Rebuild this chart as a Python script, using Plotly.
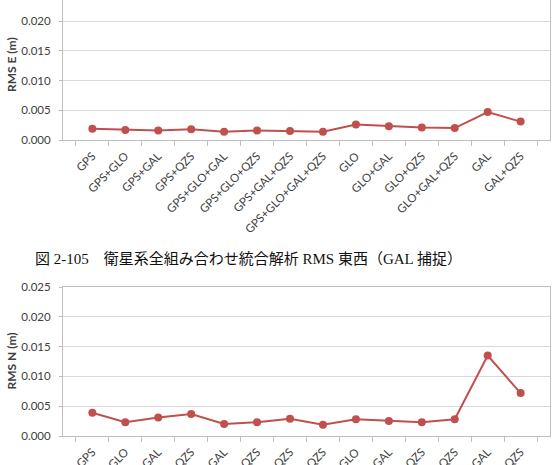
import plotly.graph_objects as go

categories = ["GPS", "GPS+GLO", "GPS+GAL", "GPS+QZS", "GPS+GLO+GAL", "GPS+GLO+QZS",
              "GPS+GAL+QZS", "GPS+GLO+GAL+QZS", "GLO", "GLO+GAL", "GLO+QZS",
              "GLO+GAL+QZS", "GAL", "GAL+QZS"]
rms_e = [0.0019, 0.0017, 0.0016, 0.0018, 0.0014, 0.0016, 0.0015, 0.0014,
         0.0026, 0.0023, 0.0021, 0.0020, 0.0047, 0.0031]
rms_n = [0.0039, 0.0023, 0.0031, 0.0037, 0.0020, 0.0023, 0.0029, 0.0019,
         0.0028, 0.0025, 0.0023, 0.0028, 0.0135, 0.0072]
y_ticks = [0.000, 0.005, 0.010, 0.015, 0.020, 0.025]
caption = "図 2-105　衛星系全組み合わせ統合解析 RMS 東西（GAL 捕捉）"

W, H = 554, 465
RED = "#C0504D"
GRID = "#D9D9D9"
AXIS = "#BFBFBF"
TXT = "#404040"
FONT = "Lato, Open Sans, sans-serif"

fig = go.Figure()
fig.add_trace(go.Scatter(x=categories, y=rms_e, mode="lines+markers", xaxis="x", yaxis="y",
                         line=dict(color=RED, width=2), marker=dict(color=RED, size=8),
                         showlegend=False, cliponaxis=False))
fig.add_trace(go.Scatter(x=categories, y=rms_n, mode="lines+markers", xaxis="x2", yaxis="y2",
                         line=dict(color=RED, width=2), marker=dict(color=RED, size=8),
                         showlegend=False, cliponaxis=False))

x_dom = [63 / W, 550 / W]
top_dom = [(H - 140) / H, 1.0]
bot_dom = [(H - 436) / H, (H - 287) / H]

xcommon = dict(type="category", tickangle=-45, tickson="boundaries", ticks="outside",
               ticklen=5, tickcolor=AXIS, showline=True, linecolor=AXIS, linewidth=1,
               showgrid=False, tickfont=dict(family=FONT, size=11.5, color=TXT),
               categoryorder="array", categoryarray=categories, fixedrange=True,
               automargin=False, ticklabelstandoff=4)
ycommon = dict(tickvals=y_ticks, tickformat=".3f", ticks="outside", ticklen=3,
               tickcolor=AXIS, showline=True, linecolor=AXIS, linewidth=1, mirror=True,
               showgrid=True, gridcolor=GRID, gridwidth=1, zeroline=False,
               tickfont=dict(family=FONT, size=11.5, color=TXT), ticklabelstandoff=6,
               automargin=False, fixedrange=True)

fig.update_layout(
    width=W, height=H, margin=dict(l=0, r=0, t=0, b=0, autoexpand=False),
    paper_bgcolor="white", plot_bgcolor="white",
    xaxis=dict(domain=x_dom, anchor="y", **xcommon),
    yaxis=dict(domain=top_dom, anchor="x", range=[0, 0.02357], **ycommon),
    xaxis2=dict(domain=x_dom, anchor="y2", mirror=True, **xcommon),
    yaxis2=dict(domain=bot_dom, anchor="x2", range=[0, 0.025], **ycommon),
)

fig.add_annotation(text="<b>RMS E (m)</b>", xref="paper", yref="paper",
                   x=11 / W, y=(H - 65) / H, xanchor="center", yanchor="middle",
                   textangle=-90, showarrow=False,
                   font=dict(family=FONT, size=12, color=TXT))
fig.add_annotation(text="<b>RMS N (m)</b>", xref="paper", yref="paper",
                   x=11 / W, y=(H - 361.5) / H, xanchor="center", yanchor="middle",
                   textangle=-90, showarrow=False,
                   font=dict(family=FONT, size=12, color=TXT))
fig.add_annotation(text=caption, xref="paper", yref="paper",
                   x=33 / W, y=(H - 259) / H, xanchor="left", yanchor="middle",
                   showarrow=False,
                   font=dict(family="Liberation Serif, Noto Sans CJK JP, serif", size=15,
                             color="#111111"))

fig.write_html("out.html")
